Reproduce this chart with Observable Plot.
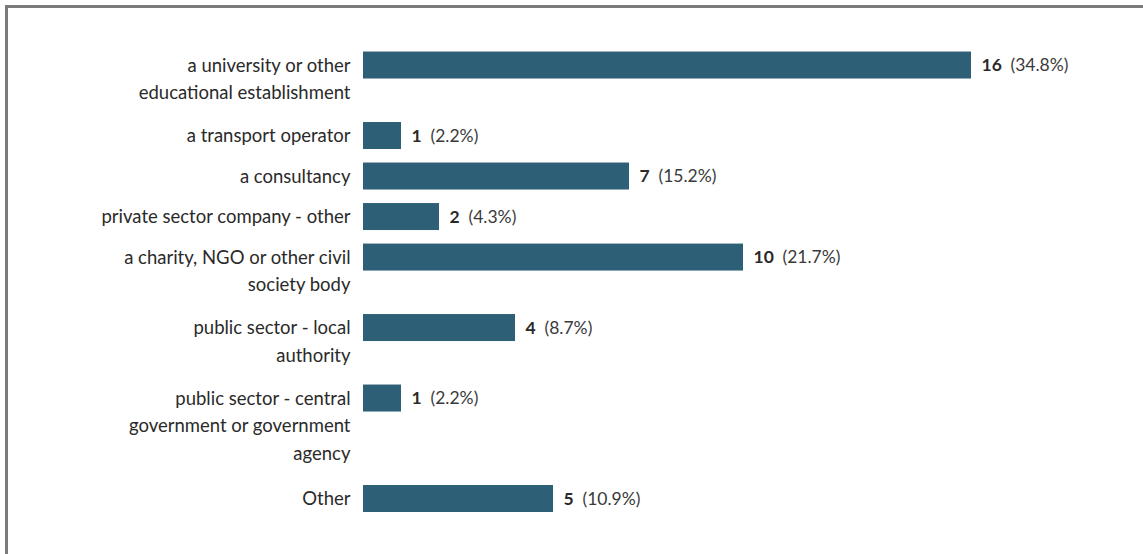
<!DOCTYPE html>
<html><head><meta charset="utf-8">
<script src="https://cdn.jsdelivr.net/npm/d3@7"></script>
<script src="https://cdn.jsdelivr.net/npm/@observablehq/plot@0.6"></script>
<style>
body{margin:0;background:#fff;}
#wrap{position:relative;width:1143px;height:554px;overflow:hidden;font-family:Lato,sans-serif;}
#border{position:absolute;left:5px;top:5px;width:1200px;height:600px;border-left:3px solid #7b7b7b;border-top:3px solid #7b7b7b;pointer-events:none;}
</style></head><body><div id="wrap"><div id="border"></div></div>
<script>
const categories = [
  "a university or other\neducational establishment",
  "a transport operator",
  "a consultancy",
  "private sector company - other",
  "a charity, NGO or other civil\nsociety body",
  "public sector - local\nauthority",
  "public sector - central\ngovernment or government\nagency",
  "Other"
];
const counts = [16, 1, 7, 2, 10, 4, 1, 5];
const percents = ["34.8%", "2.2%", "15.2%", "4.3%", "21.7%", "8.7%", "2.2%", "10.9%"];

// row positions derived from label line counts (one row unit per single-line row)
let p = 0;
const rows = categories.map((label, i) => {
  const lines = label.split("\n").length;
  const r = {label, count: counts[i], pct: "(" + percents[i] + ")", pos: p};
  p += 1 + 0.74 * (lines - 1);
  return r;
});
const half = 0.333;

const chart = Plot.plot({
  width: 1143,
  height: 554,
  marginLeft: 363,
  marginRight: 172,
  marginTop: 0,
  marginBottom: 0,
  style: {fontFamily: "Lato, sans-serif", background: "transparent"},
  x: {domain: [0, 16], axis: null},
  y: {domain: [-1.605, 12.07], reverse: true, axis: null},
  marks: [
    Plot.rectX(rows, {x1: 0, x2: "count", y1: d => d.pos - half, y2: d => d.pos + half, fill: "#2d5f76"}),
    Plot.text(rows, {x: 0, y: "pos", text: "label", textAnchor: "end", lineAnchor: "top", dx: -13, dy: -13.5, fontSize: 18.5, lineHeight: 1.5, fill: "#2a2a2a"}),
    Plot.text(rows, {x: "count", y: "pos", text: d => String(d.count), textAnchor: "start", dx: 10, fontSize: 17.5, fontWeight: "bold", fill: "#2a2a2a"}),
    Plot.text(rows.filter(d => d.count < 10), {x: "count", y: "pos", text: "pct", textAnchor: "start", dx: 29, fontSize: 17.5, fill: "#3a3a3a"}),
    Plot.text(rows.filter(d => d.count >= 10), {x: "count", y: "pos", text: "pct", textAnchor: "start", dx: 39, fontSize: 17.5, fill: "#3a3a3a"})
  ]
});
document.getElementById("wrap").prepend(chart);
</script>
</body></html>
